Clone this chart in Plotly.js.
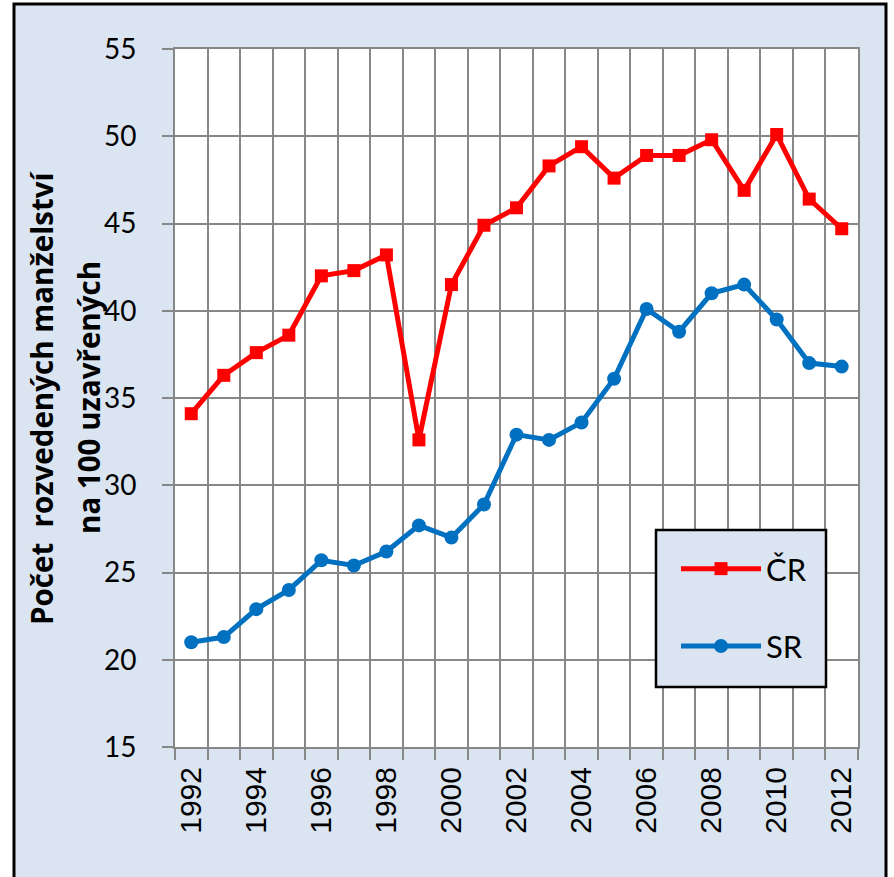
<!DOCTYPE html>
<html>
<head>
<meta charset="utf-8">
<script src="https://cdn.plot.ly/plotly-3.0.1.min.js"></script>
<style>html,body{margin:0;padding:0;background:#fff;}#chart{width:894px;height:877px;}</style>
</head>
<body>
<div id="chart"></div>
<script>
const years = ['1992','1993','1994','1995','1996','1997','1998','1999','2000','2001','2002',
               '2003','2004','2005','2006','2007','2008','2009','2010','2011','2012'];
const yearLabels = years.map((y, i) => (i % 2 === 0 ? y : ''));
const crValues = [34.1, 36.3, 37.6, 38.6, 42.0, 42.3, 43.2, 32.6, 41.5, 44.9, 45.9,
                  48.3, 49.4, 47.6, 48.9, 48.9, 49.8, 46.9, 50.1, 46.4, 44.7];
const srValues = [21.0, 21.3, 22.9, 24.0, 25.7, 25.4, 26.2, 27.7, 27.0, 28.9, 32.9,
                  32.6, 33.6, 36.1, 40.1, 38.8, 41.0, 41.5, 39.5, 37.0, 36.8];
const seriesNames = ['ČR', 'SR'];
const yTitleLines = ['Počet  rozvedených manželství', 'na 100 uzavřených'];

const W = 894, H = 877;
const M = {l: 175, r: 36, t: 49, b: 130};
const PW = W - M.l - M.r, PH = H - M.t - M.b;
const px = x => (x - M.l) / PW;
const py = y => (H - M.b - y) / PH;

const gridColor = '#878787';
const calibri = 'Lato, "Open Sans", sans-serif';

const traces = [
  {x: years, y: crValues, name: seriesNames[0], type: 'scatter', mode: 'lines+markers',
   legendgroup: 'a',
   line: {color: '#ff0000', width: 5}, marker: {symbol: 'square', size: 13, color: '#ff0000'}},
  {x: years, y: srValues, name: seriesNames[1], type: 'scatter', mode: 'lines+markers',
   legendgroup: 'b',
   line: {color: '#0070c0', width: 5}, marker: {symbol: 'circle', size: 14, color: '#0070c0'}}
];

const layout = {
  width: W, height: H,
  margin: M,
  paper_bgcolor: '#ffffff',
  plot_bgcolor: 'rgba(0,0,0,0)',
  showlegend: true,
  legend: {
    x: px(676), y: py(542), xanchor: 'left', yanchor: 'top',
    bgcolor: 'rgba(0,0,0,0)', borderwidth: 0,
    font: {family: calibri, size: 31, color: '#000'},
    itemwidth: 80, tracegroupgap: 34, traceorder: 'grouped'
  },
  xaxis: {
    type: 'category',
    tickmode: 'array', tickvals: years, ticktext: yearLabels,
    tickson: 'boundaries',
    range: [-0.5, 20.5],
    showgrid: true, gridcolor: gridColor, gridwidth: 2,
    showline: true, linecolor: gridColor, linewidth: 2, mirror: true,
    ticks: 'outside', ticklen: 11, tickwidth: 2, tickcolor: gridColor,
    tickangle: -90, ticklabelstandoff: 6,
    tickfont: {family: '"Liberation Sans", Arial, sans-serif', size: 30, color: '#000'},
    zeroline: false, fixedrange: true
  },
  yaxis: {
    range: [15, 55], tickmode: 'linear', tick0: 15, dtick: 5,
    showgrid: true, gridcolor: gridColor, gridwidth: 2,
    showline: true, linecolor: gridColor, linewidth: 2, mirror: true,
    ticks: 'outside', ticklen: 11, tickwidth: 2, tickcolor: gridColor,
    ticklabelstandoff: 20,
    tickfont: {family: calibri, size: 28, color: '#000'},
    zeroline: false, fixedrange: true
  },
  shapes: [
    {type: 'rect', xref: 'paper', yref: 'paper', layer: 'below',
     x0: px(14), x1: px(886), y0: py(884), y1: py(4),
     fillcolor: '#dbe5f1', line: {color: '#000', width: 3}},
    {type: 'rect', xref: 'paper', yref: 'paper', layer: 'below',
     x0: 0, x1: 1, y0: 0, y1: 1, fillcolor: '#ffffff', line: {width: 0}},
    {type: 'rect', xref: 'paper', yref: 'paper', layer: 'above',
     x0: px(656), x1: px(826), y0: py(687), y1: py(530),
     fillcolor: '#dbe5f1', line: {color: '#000', width: 2.5}}
  ],
  annotations: [
    {text: yTitleLines[0], xref: 'paper', yref: 'paper', x: px(41), y: 0.5,
     xanchor: 'center', yanchor: 'middle', textangle: -90, showarrow: false,
     font: {family: '"Open Sans", sans-serif', size: 29.5, color: '#000', weight: 'bold'}},
    {text: yTitleLines[1], xref: 'paper', yref: 'paper', x: px(88), y: 0.5,
     xanchor: 'center', yanchor: 'middle', textangle: -90, showarrow: false,
     font: {family: '"Open Sans", sans-serif', size: 29.5, color: '#000', weight: 'bold'}}
  ]
};

Plotly.newPlot('chart', traces, layout, {staticPlot: true, displayModeBar: false});
</script>
</body>
</html>
